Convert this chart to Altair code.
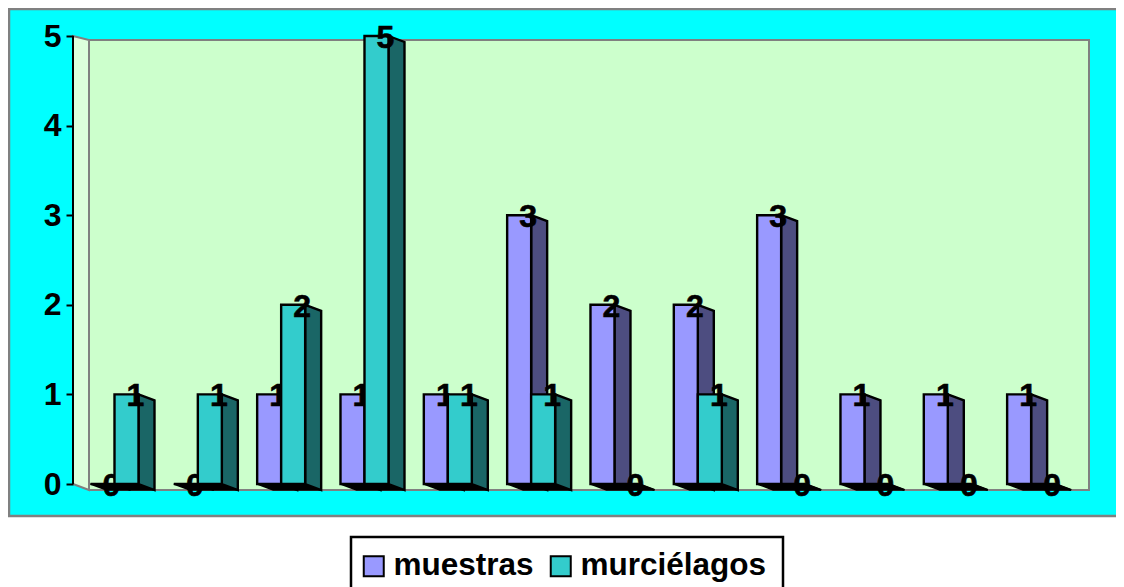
import altair as alt
import pandas as pd

muestras = [0, 0, 1, 1, 1, 3, 2, 2, 3, 1, 1, 1]
murcielagos = [1, 1, 2, 5, 1, 1, 0, 1, 0, 0, 0, 0]
names = ["muestras", "murciélagos"]
front = ["#9999FF", "#33CCCC"]
side = ["#4D4D80", "#1A6666"]

FONT = "Liberation Sans"
W, H = 1108, 579
STEP, UNIT = 83.33, 89.6          # pixels per category / per value
X0, Y0 = 82.5, 476.0              # pixel position of category 0 / value 0
BW = 24 / STEP                    # bar width
DX, DY = 16 / STEP, 6 / UNIT      # depth of the 3D projection

xs = alt.Scale(domain=[-X0 / STEP, (W - X0) / STEP], nice=False, zero=False)
ys = alt.Scale(domain=[(Y0 - H) / UNIT, Y0 / UNIT], nice=False, zero=False)
AXIS = alt.Axis(
    values=[0, 1, 2, 3, 4, 5],
    format="d",
    title=None,
    offset=-(73 - 8),
    domain=False,
    grid=False,
    tickColor="black",
    tickWidth=2,
    tickSize=7,
    labelFont=FONT,
    labelFontSize=32,
    labelFontWeight="bold",
    labelColor="black",
    labelPadding=5,
    labelOverlap=False,
    labelFlush=False,
    zindex=1,
)
X = lambda f="x": alt.X(f"{f}:Q", scale=xs, axis=None)
Y = lambda f="y": alt.Y(f"{f}:Q", scale=ys, axis=AXIS)
px = lambda p: (p - 8 - X0) / STEP
py = lambda p: (Y0 - (p - 8)) / UNIT


def rect(x, x2, y, y2, **kw):
    d = pd.DataFrame({"x": [x], "x2": [x2], "y": [y], "y2": [y2]})
    return alt.Chart(d).mark_rect(**kw).encode(x=X(), x2="x2:Q", y=Y(), y2="y2:Q")


panel = rect(px(9), px(1140), py(9), py(516), fill="#00FFFF", stroke="#808080", strokeWidth=2.5)
wall = rect(px(89), px(1089), py(40), py(490), fill="#CCFFCC", stroke="#808080", strokeWidth=2)
legend_box = rect(px(351), px(783), py(537), py(620), fill="white", stroke="black", strokeWidth=2.5)
left_wall = (
    alt.Chart(pd.DataFrame({"x": [px(73), px(89)], "y": [py(36), py(40)], "y2": [py(484), py(490)]}))
    .mark_area(fill="#DCFFDC", stroke="#808080", strokeWidth=2)
    .encode(x=X(), y=Y(), y2="y2:Q")
)
y_line = (
    alt.Chart(pd.DataFrame({"x": [px(73)], "y": [5], "y2": [0]}))
    .mark_rule(color="black", strokeWidth=2)
    .encode(x=X(), y=Y(), y2="y2:Q")
)


def series(values, i):
    off = i * BW
    floor_rows, side_rows, front_rows = [], [], []
    for k, v in enumerate(values):
        l = k + off
        floor_rows += [
            {"g": k, "x": l, "y": 0, "y2": 0},
            {"g": k, "x": l + DX, "y": 0, "y2": -DY},
            {"g": k, "x": l + BW, "y": 0, "y2": -DY},
            {"g": k, "x": l + BW + DX, "y": -DY, "y2": -DY},
        ]
        side_rows += [
            {"g": k, "x": l + BW, "y": v, "y2": 0},
            {"g": k, "x": l + BW + DX, "y": v - DY, "y2": -DY},
        ]
        front_rows.append({"x": l, "x2": l + BW, "y": v, "y2": 0, "s": names[i], "t": l + 21 / STEP})
    fr = pd.DataFrame(front_rows)
    return [
        alt.Chart(pd.DataFrame(floor_rows))
        .mark_area(fill="black", stroke="black", strokeWidth=1.5)
        .encode(x=X(), y=Y(), y2="y2:Q", detail="g:N"),
        alt.Chart(pd.DataFrame(side_rows))
        .mark_area(fill=side[i], stroke="black", strokeWidth=2.4)
        .encode(x=X(), y=Y(), y2="y2:Q", detail="g:N"),
        alt.Chart(fr)
        .mark_rect(stroke="black", strokeWidth=2.4)
        .encode(
            x=X(),
            x2="x2:Q",
            y=Y(),
            y2="y2:Q",
            color=alt.Color(
                "s:N",
                scale=alt.Scale(domain=names, range=front),
                legend=alt.Legend(
                    orient="none",
                    legendX=350,
                    legendY=542,
                    direction="horizontal",
                    columns=2,
                    title=None,
                    symbolType="square",
                    symbolSize=400,
                    symbolStrokeColor="black",
                    symbolStrokeWidth=2,
                    symbolOpacity=1,
                    labelFont=FONT,
                    labelFontSize=31.5,
                    labelFontWeight="bold",
                    labelColor="black",
                    labelOffset=4,
                    labelLimit=400,
                    padding=0,
                    columnPadding=11,
                ),
            ),
        ),
        alt.Chart(fr)
        .mark_text(
            font=FONT,
            fontSize=32,
            fontWeight="bold",
            color="black",
            stroke="black",
            strokeWidth=0.6,
            baseline="middle",
            dy=2,
        )
        .encode(x=alt.X("t:Q", scale=xs, axis=None), y=Y(), text=alt.Text("y:Q", format="d")),
    ]


chart = (
    alt.layer(
        panel,
        wall,
        left_wall,
        y_line,
        legend_box,
        *series(muestras, 0),
        *series(murcielagos, 1),
    )
    .properties(width=W, height=H, padding=0, autosize=alt.AutoSizeParams(type="none"), background="white")
    .configure_view(stroke=None)
)

chart.save("out.html", embed_options={"renderer": "svg", "actions": False})
